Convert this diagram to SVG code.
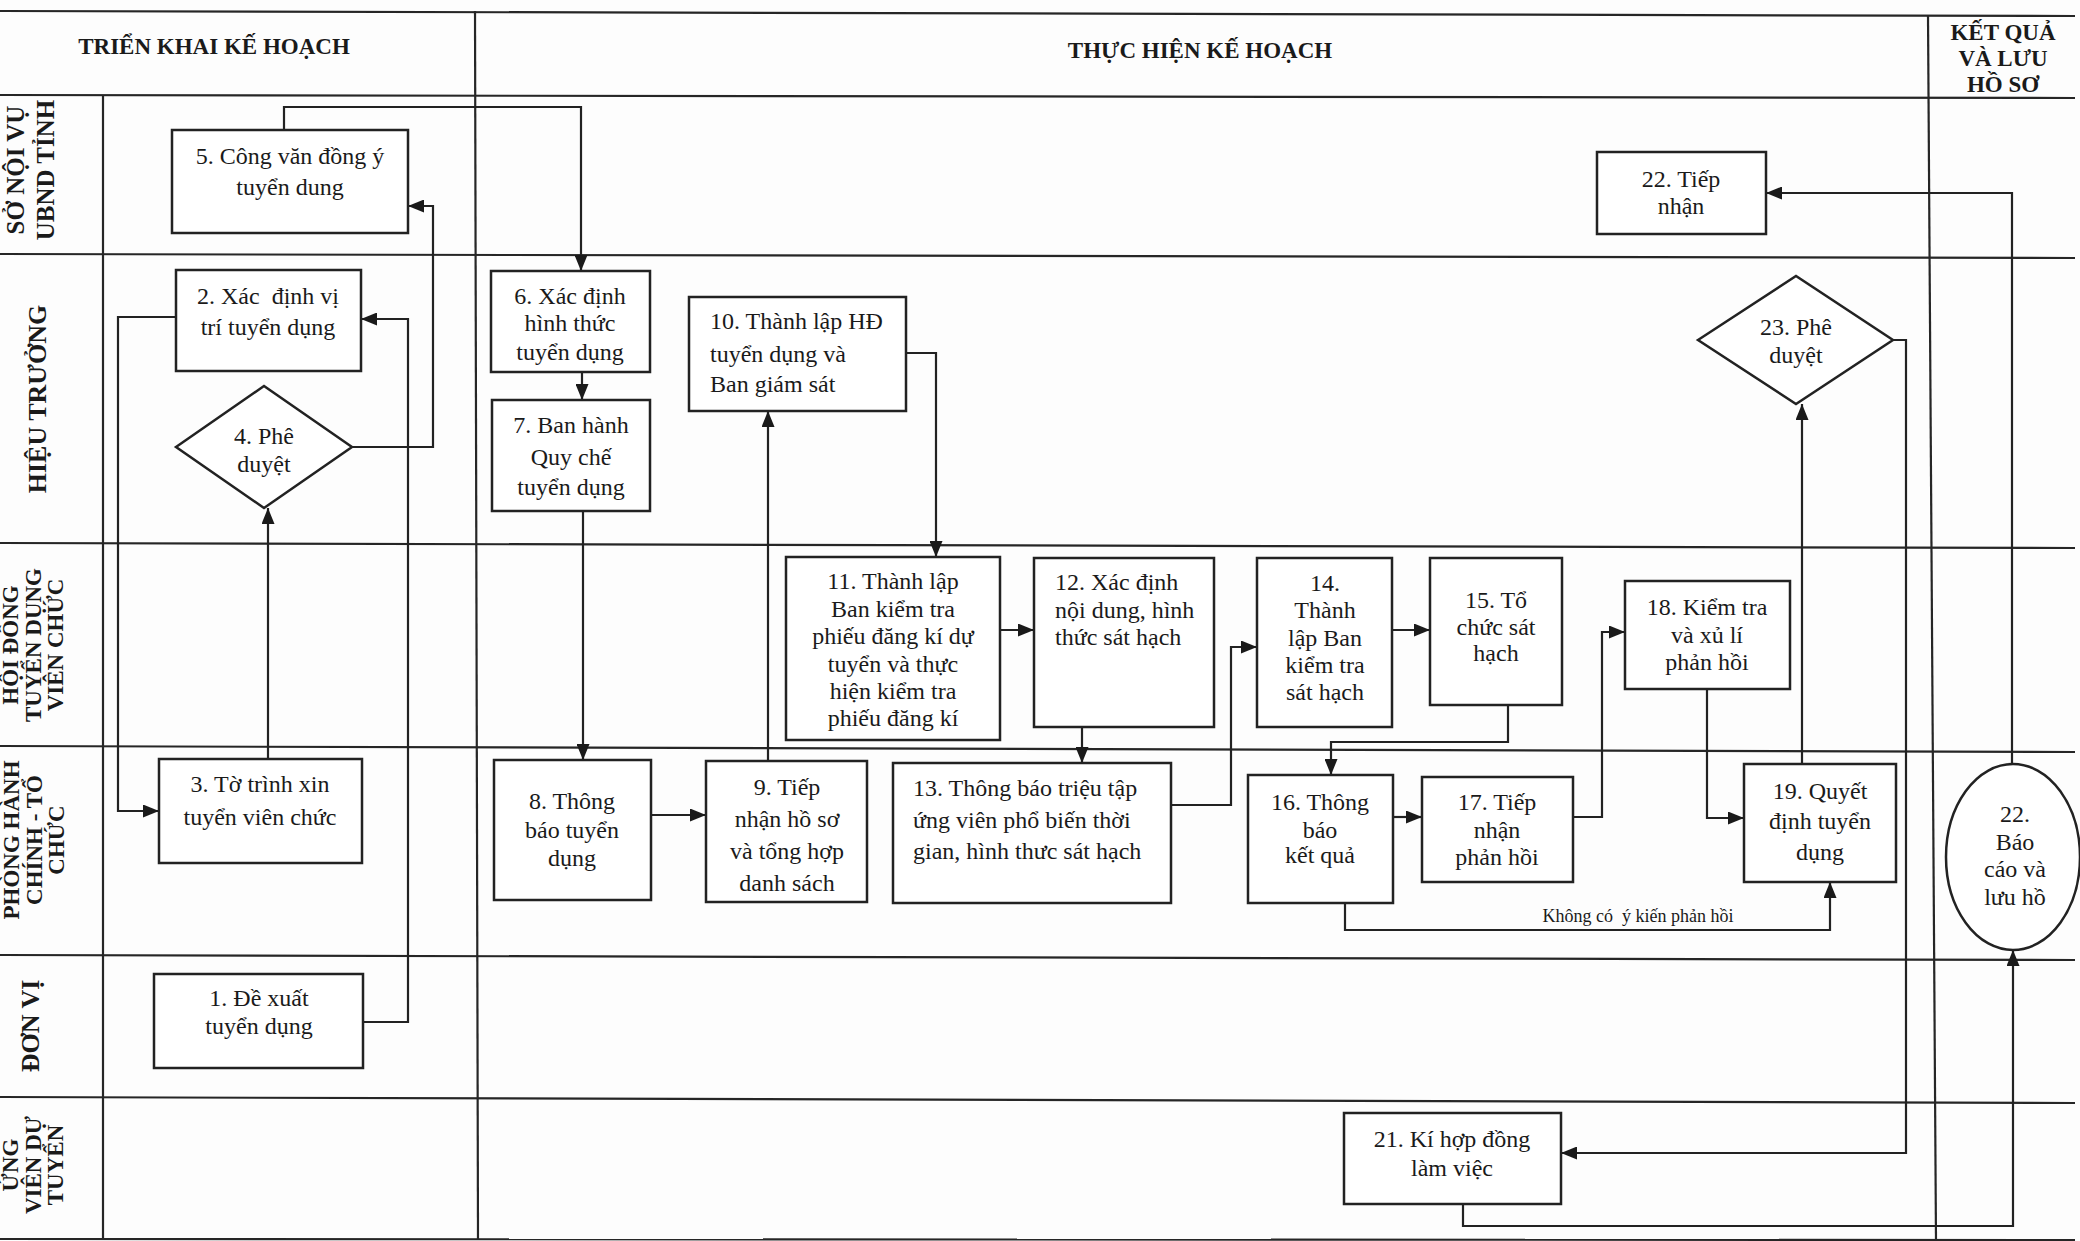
<svg xmlns="http://www.w3.org/2000/svg" width="2080" height="1241" viewBox="0 0 2080 1241">
<style>
.bg{fill:#fdfdfd}
.grid{stroke:#262626;stroke-width:2.2;fill:none}
.box{fill:#fff;stroke:#222;stroke-width:2.5}
.t{font-family:"Liberation Serif","Times New Roman",serif;font-size:24px;fill:#1a1a1a;text-anchor:middle}
.tl{text-anchor:start}
.h{font-weight:bold;font-size:23px}
.lane{font-weight:bold;font-size:24px}
.small{font-size:18px}
.conn path{fill:none;stroke:#222;stroke-width:2.2;marker-end:url(#arr)}
</style>
<defs>
<marker id="arr" viewBox="0 0 16 13" refX="16" refY="6.5" markerWidth="16" markerHeight="13" orient="auto" markerUnits="userSpaceOnUse">
<path d="M0,0 L16,6.5 L0,13 z" fill="#1a1a1a"/>
</marker>
</defs>
<rect class="bg" x="0" y="0" width="2080" height="1241"/>

<g id="grid" class="grid">
<line x1="0" y1="11" x2="2075" y2="16"/>
<line x1="0" y1="95" x2="2075" y2="98"/>
<line x1="0" y1="254" x2="2075" y2="258"/>
<line x1="0" y1="543" x2="2075" y2="548"/>
<line x1="0" y1="746" x2="2075" y2="752"/>
<line x1="0" y1="955" x2="2075" y2="960"/>
<line x1="0" y1="1097" x2="2075" y2="1103"/>
<line x1="0" y1="1239" x2="2075" y2="1240"/>
<line x1="103" y1="95" x2="103" y2="1240"/>
<line x1="475" y1="11" x2="478" y2="1240"/>
<line x1="1928" y1="16" x2="1936" y2="1240"/>
</g>

<g id="headers">
<text class="t h" x="214" y="54">TRIỂN KHAI KẾ HOẠCH</text>
<text class="t h" x="1200" y="58">THỰC HIỆN KẾ HOẠCH</text>
<text class="t h" x="2003" y="40">KẾT QUẢ</text>
<text class="t h" x="2003" y="66">VÀ LƯU</text>
<text class="t h" x="2003" y="92">HỒ SƠ</text>
</g>

<g id="lanes">
<text class="t lane" style="font-size:25px" transform="translate(24,170) rotate(-90)">SỞ NỘI VỤ</text>
<text class="t lane" style="font-size:25px" transform="translate(54,170) rotate(-90)">UBND TỈNH</text>
<text class="t lane" style="font-size:26px" transform="translate(46,399) rotate(-90)">HIỆU TRƯỞNG</text>
<text class="t lane" style="font-size:23px" transform="translate(18,645) rotate(-90)">HỘI ĐỒNG</text>
<text class="t lane" style="font-size:23px" transform="translate(41,645) rotate(-90)">TUYỂN DỤNG</text>
<text class="t lane" style="font-size:23px" transform="translate(63,645) rotate(-90)">VIÊN CHỨC</text>
<text class="t lane" style="font-size:23px" transform="translate(19,840) rotate(-90)">PHÒNG HÀNH</text>
<text class="t lane" style="font-size:23px" transform="translate(42,840) rotate(-90)">CHÍNH - TỔ</text>
<text class="t lane" style="font-size:23px" transform="translate(64,840) rotate(-90)">CHỨC</text>
<text class="t lane" style="font-size:26px" transform="translate(39,1026) rotate(-90)">ĐƠN VỊ</text>
<text class="t lane" style="font-size:23px" transform="translate(18,1165) rotate(-90)">ỨNG</text>
<text class="t lane" style="font-size:23px" transform="translate(41,1165) rotate(-90)">VIÊN DỰ</text>
<text class="t lane" style="font-size:23px" transform="translate(63,1165) rotate(-90)">TUYỂN</text>
</g>

<g id="connectors" class="conn">
<path d="M363,1022 H408 V319 H361"/>
<path d="M176,317 H118 V811 H159"/>
<path d="M268,759 V508"/>
<path d="M352,447 H433 V206 H408"/>
<path d="M284,130 V107 H581 V271"/>
<path d="M582,372 V400"/>
<path d="M583,511 V760"/>
<path d="M651,815 H706"/>
<path d="M768,761 V411"/>
<path d="M906,353 H936 V557"/>
<path d="M1000,630 H1034"/>
<path d="M1082,727 V763"/>
<path d="M1171,805 H1231 V647 H1257"/>
<path d="M1392,630 H1430"/>
<path d="M1508,705 V742 H1331 V775"/>
<path d="M1393,817 H1422"/>
<path d="M1573,817 H1602 V632 H1625"/>
<path d="M1707,689 V818 H1744"/>
<path d="M1345,903 V930 H1830 V882"/>
<path d="M1802,764 V404"/>
<path d="M1893,340 H1906 V1153 H1561"/>
<path d="M1463,1204 V1226 H2013 V950"/>
<path d="M2012,764 V193 H1766"/>
<text class="t small" x="1638" y="922" xml:space="preserve">Không có  ý kiến phản hồi</text>
</g>

<g id="n1"><rect class="box" x="154" y="974" width="209" height="94"/>
<text class="t" x="259"><tspan x="259" y="1006">1. Đề xuất</tspan><tspan x="259" y="1034">tuyển dụng</tspan></text></g>

<g id="n2"><rect class="box" x="176" y="270" width="185" height="101"/>
<text class="t" x="268" xml:space="preserve"><tspan x="268" y="304">2. Xác  định vị</tspan><tspan x="268" y="335">trí tuyển dụng</tspan></text></g>

<g id="n3"><rect class="box" x="159" y="759" width="203" height="104"/>
<text class="t"><tspan x="260" y="792">3. Tờ trình xin</tspan><tspan x="260" y="825">tuyển viên chức</tspan></text></g>

<g id="n4"><polygon class="box" points="176,447 264,386 352,447 264,508"/>
<text class="t"><tspan x="264" y="444">4. Phê</tspan><tspan x="264" y="472">duyệt</tspan></text></g>

<g id="n5"><rect class="box" x="172" y="130" width="236" height="103"/>
<text class="t"><tspan x="290" y="164">5. Công văn đồng ý</tspan><tspan x="290" y="195">tuyển dung</tspan></text></g>

<g id="n6"><rect class="box" x="491" y="271" width="159" height="101"/>
<text class="t"><tspan x="570" y="304">6. Xác định</tspan><tspan x="570" y="331">hình thức</tspan><tspan x="570" y="360">tuyển dụng</tspan></text></g>

<g id="n7"><rect class="box" x="492" y="400" width="158" height="111"/>
<text class="t"><tspan x="571" y="433">7. Ban hành</tspan><tspan x="571" y="465">Quy chế</tspan><tspan x="571" y="495">tuyển dụng</tspan></text></g>

<g id="n8"><rect class="box" x="494" y="760" width="157" height="140"/>
<text class="t"><tspan x="572" y="809">8. Thông</tspan><tspan x="572" y="838">báo tuyển</tspan><tspan x="572" y="866">dụng</tspan></text></g>

<g id="n9"><rect class="box" x="706" y="761" width="161" height="141"/>
<text class="t"><tspan x="787" y="795">9. Tiếp</tspan><tspan x="787" y="827">nhận hồ sơ</tspan><tspan x="787" y="859">và tổng hợp</tspan><tspan x="787" y="891">danh sách</tspan></text></g>

<g id="n10"><rect class="box" x="689" y="297" width="217" height="114"/>
<text class="t tl"><tspan x="710" y="329">10. Thành lập HĐ</tspan><tspan x="710" y="362">tuyển dụng và</tspan><tspan x="710" y="392">Ban giám sát</tspan></text></g>

<g id="n11"><rect class="box" x="786" y="557" width="214" height="183"/>
<text class="t"><tspan x="893" y="589">11. Thành lập</tspan><tspan x="893" y="617">Ban kiểm tra</tspan><tspan x="893" y="644">phiếu đăng kí dự</tspan><tspan x="893" y="672">tuyển và thực</tspan><tspan x="893" y="699">hiện kiểm tra</tspan><tspan x="893" y="726">phiếu đăng kí</tspan></text></g>

<g id="n12"><rect class="box" x="1034" y="558" width="180" height="169"/>
<text class="t tl"><tspan x="1055" y="590">12. Xác định</tspan><tspan x="1055" y="618">nội dung, hình</tspan><tspan x="1055" y="645">thức sát hạch</tspan></text></g>

<g id="n13"><rect class="box" x="893" y="763" width="278" height="140"/>
<text class="t tl"><tspan x="913" y="796">13. Thông báo triệu tập</tspan><tspan x="913" y="828">ứng viên phổ biến thời</tspan><tspan x="913" y="859">gian, hình thưc sát hạch</tspan></text></g>

<g id="n14"><rect class="box" x="1257" y="558" width="135" height="169"/>
<text class="t"><tspan x="1325" y="591">14.</tspan><tspan x="1325" y="618">Thành</tspan><tspan x="1325" y="646">lập Ban</tspan><tspan x="1325" y="673">kiểm tra</tspan><tspan x="1325" y="700">sát hạch</tspan></text></g>

<g id="n15"><rect class="box" x="1430" y="558" width="132" height="147"/>
<text class="t"><tspan x="1496" y="608">15. Tổ</tspan><tspan x="1496" y="635">chức sát</tspan><tspan x="1496" y="661">hạch</tspan></text></g>

<g id="n16"><rect class="box" x="1248" y="775" width="145" height="128"/>
<text class="t"><tspan x="1320" y="810">16. Thông</tspan><tspan x="1320" y="838">báo</tspan><tspan x="1320" y="863">kết quả</tspan></text></g>

<g id="n17"><rect class="box" x="1422" y="777" width="151" height="105"/>
<text class="t"><tspan x="1497" y="810">17. Tiếp</tspan><tspan x="1497" y="838">nhận</tspan><tspan x="1497" y="865">phản hồi</tspan></text></g>

<g id="n18"><rect class="box" x="1625" y="581" width="165" height="108"/>
<text class="t"><tspan x="1707" y="615">18. Kiểm tra</tspan><tspan x="1707" y="643">và xủ lí</tspan><tspan x="1707" y="670">phản hồi</tspan></text></g>

<g id="n19"><rect class="box" x="1744" y="764" width="152" height="118"/>
<text class="t"><tspan x="1820" y="799">19. Quyết</tspan><tspan x="1820" y="829">định tuyển</tspan><tspan x="1820" y="860">dụng</tspan></text></g>

<g id="n21"><rect class="box" x="1344" y="1113" width="217" height="91"/>
<text class="t"><tspan x="1452" y="1147">21. Kí hợp đồng</tspan><tspan x="1452" y="1176">làm việc</tspan></text></g>

<g id="n22a"><rect class="box" x="1597" y="152" width="169" height="82"/>
<text class="t"><tspan x="1681" y="187">22. Tiếp</tspan><tspan x="1681" y="214">nhận</tspan></text></g>

<g id="n22b"><ellipse class="box" cx="2013" cy="857" rx="67" ry="93"/>
<text class="t"><tspan x="2015" y="822">22.</tspan><tspan x="2015" y="850">Báo</tspan><tspan x="2015" y="877">cáo và</tspan><tspan x="2015" y="905">lưu hồ</tspan></text></g>

<g id="n23"><polygon class="box" points="1698,340 1796,276 1893,340 1796,404"/>
<text class="t"><tspan x="1796" y="335">23. Phê</tspan><tspan x="1796" y="363">duyệt</tspan></text></g>
</svg>
